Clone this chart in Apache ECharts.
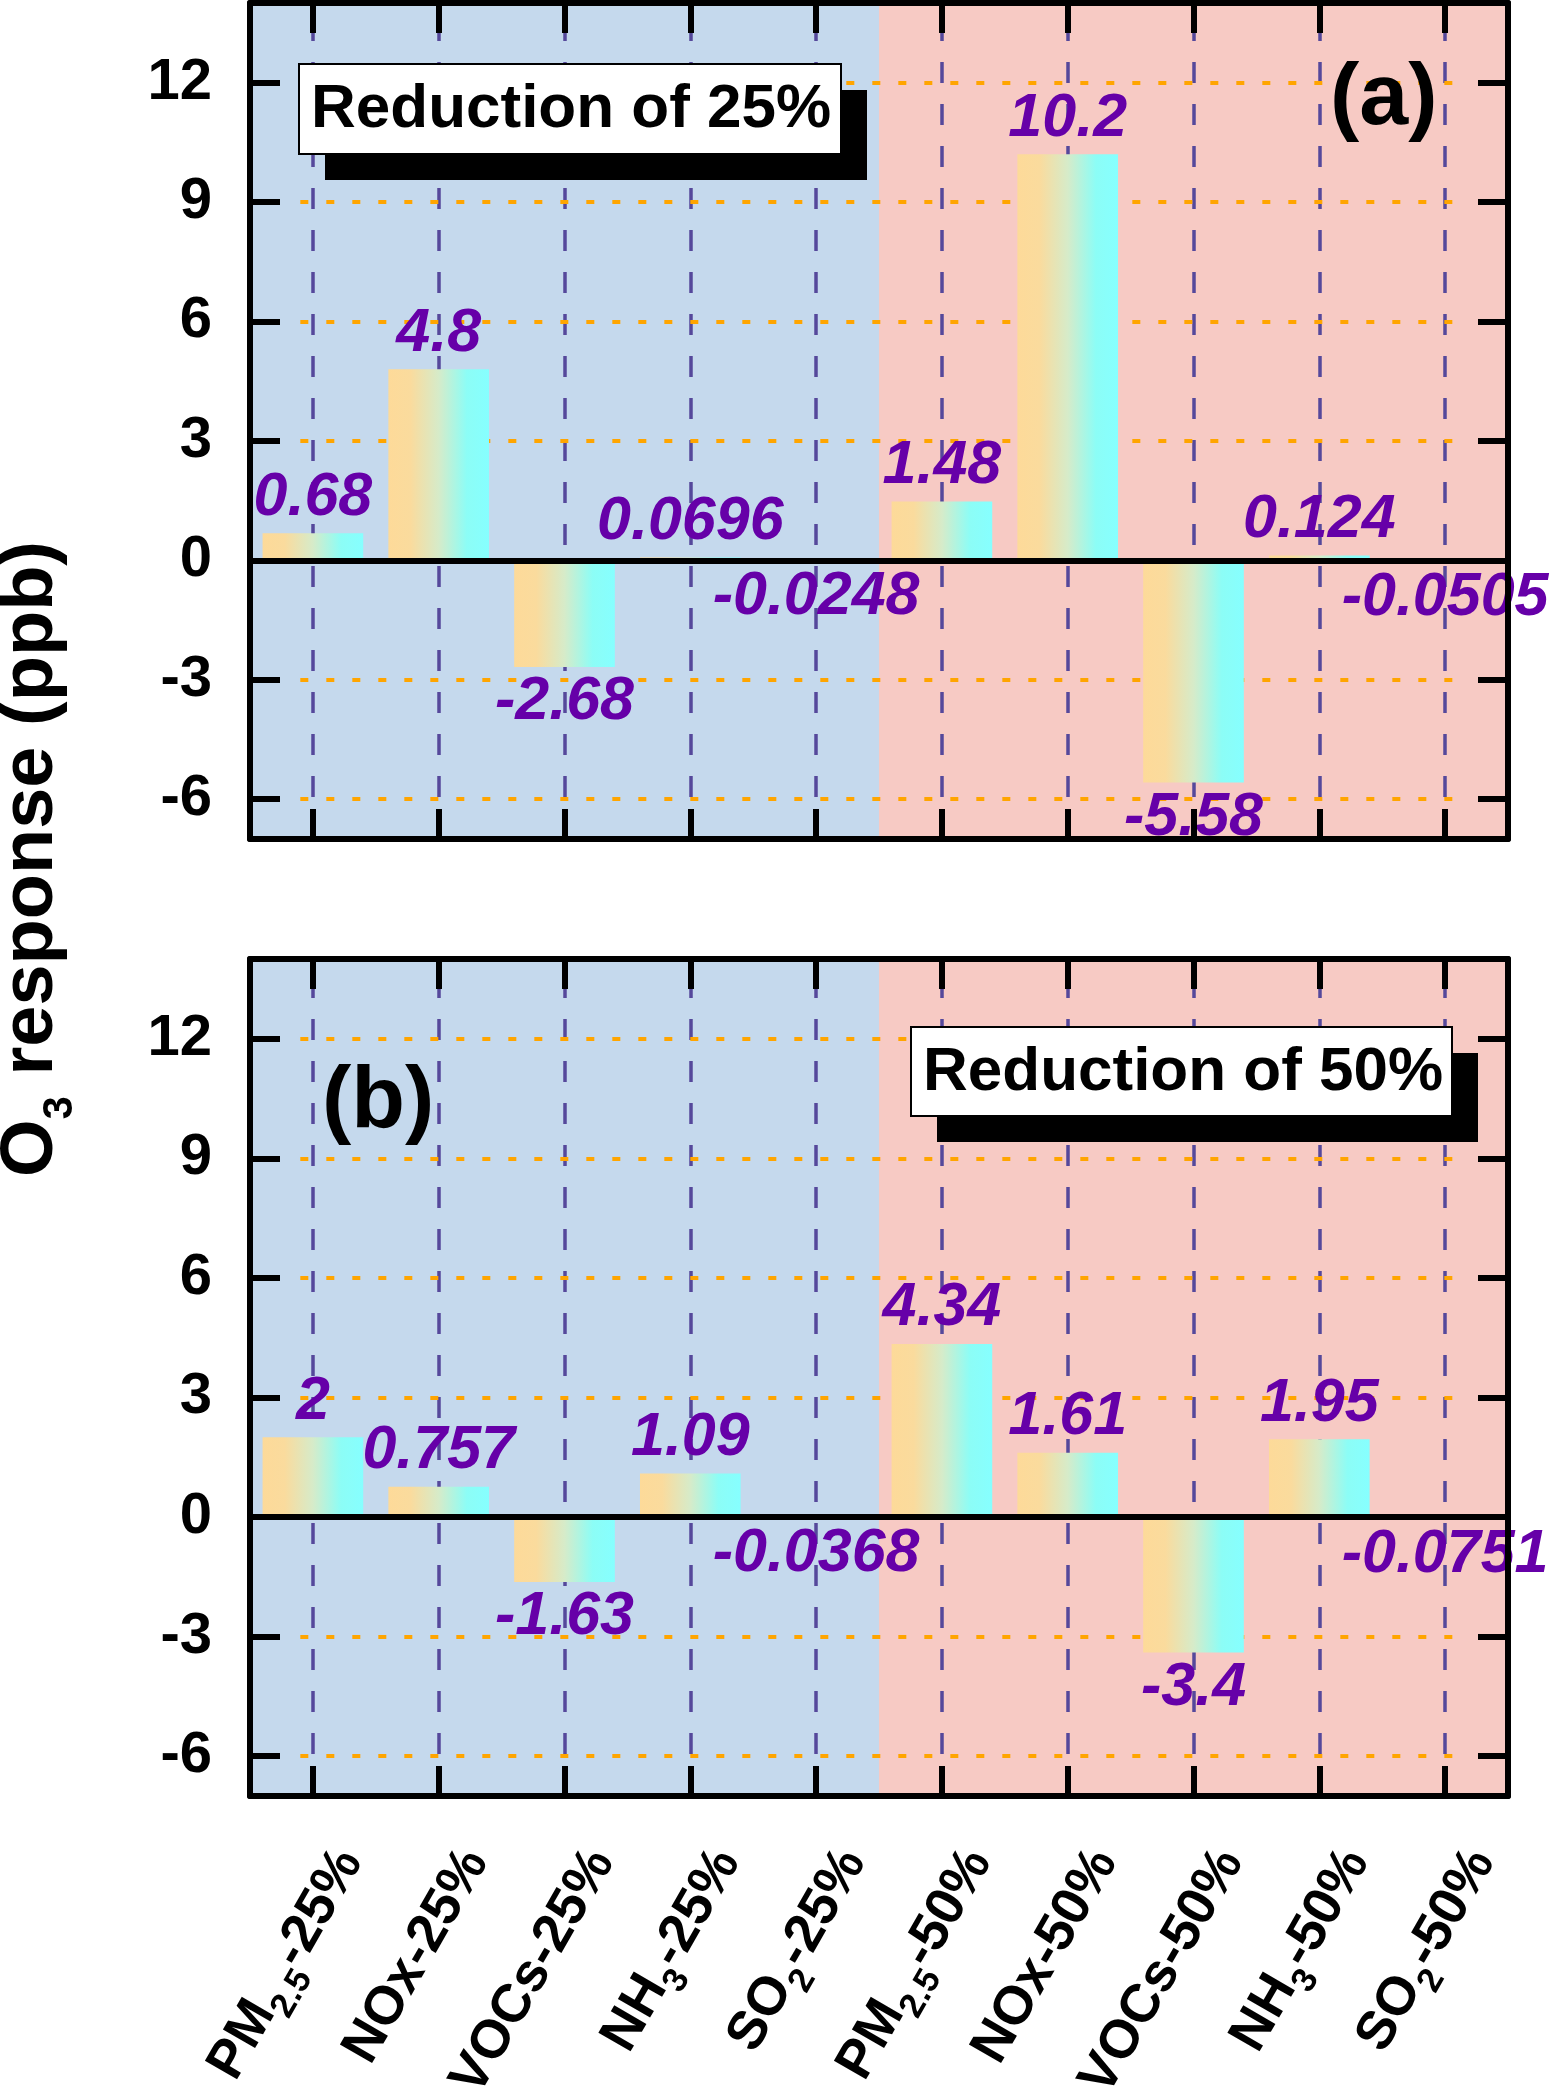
<!DOCTYPE html>
<html>
<head>
<meta charset="utf-8">
<script src="https://cdn.jsdelivr.net/npm/echarts@6/dist/echarts.min.js"></script>
<style>
html,body{margin:0;padding:0;background:#ffffff;}
#c{width:1554px;height:2087px;}
</style>
</head>
<body>
<div id="c"></div>
<script>
// ---------------- data ----------------
const categories = ['PM2.5-25%', 'NOx-25%', 'VOCs-25%', 'NH3-25%', 'SO2-25%',
                    'PM2.5-50%', 'NOx-50%', 'VOCs-50%', 'NH3-50%', 'SO2-50%'];
const values25 = [0.68, 4.8, -2.68, 0.0696, -0.0248, 1.48, 10.2, -5.58, 0.124, -0.0505];
const values50 = [2, 0.757, -1.63, 1.09, -0.0368, 4.34, 1.61, -3.4, 1.95, -0.0751];
const yTickValues = [-6, -3, 0, 3, 6, 9, 12];
const yGridValues = [-6, -3, 3, 6, 9, 12];
const yMin = -7;
const yMax = 14;
const regionBreak = 5;   // first 5 categories: 25% scenarios, last 5: 50% scenarios
const panelTitles = ['Reduction of 25%', 'Reduction of 50%'];
const panelTags = ['(a)', '(b)'];
const yAxisTitle = ['O', '3', ' response (ppb)'];

// ---------------- styles ----------------
const FONT = "'Liberation Sans', Arial, Helvetica, sans-serif";
const BLUE = '#C5D9ED';
const PINK = '#F7CAC4';
const PURPLE_DASH = '#55489B';
const ORANGE = '#FFA500';
const LABEL_COLOR = '#6600A8';

const barGradient = new echarts.graphic.LinearGradient(0, 0, 1, 0, [
  {offset: 0, color: '#FDDA99'},
  {offset: 0.22, color: '#FADB9D'},
  {offset: 0.5, color: '#D6EBC9'},
  {offset: 0.78, color: '#8CFDF6'},
  {offset: 1, color: '#86FFFF'}
]);

const grids = [
  {left: 250, width: 1258, top: 3, height: 836, containLabel: false, outerBoundsMode: 'none'},
  {left: 250, width: 1258, top: 959, height: 837, containLabel: false, outerBoundsMode: 'none'}
];

function richCategory(name) {
  return name.replace('PM2.5', 'PM{s|2.5}').replace('NH3', 'NH{s|3}').replace('SO2', 'SO{s|2}');
}

function catAxis(gi, pos, showLabel) {
  return {
    type: 'category', gridIndex: gi, position: pos, data: categories, boundaryGap: true, z: 10,
    axisLine: {show: true, onZero: false, lineStyle: {color: '#000', width: 6}},
    axisTick: {show: true, inside: true, length: 30, alignWithLabel: true, lineStyle: {color: '#000', width: 6}},
    splitLine: {show: false},
    axisLabel: showLabel ? {
      show: true, interval: 0, rotate: 60, margin: 36,
      verticalAlign: 'top', lineHeight: 86,
      fontSize: 54, fontWeight: 'bold', fontFamily: FONT, color: '#000',
      formatter: richCategory,
      rich: {
        s: {fontSize: 35, fontWeight: 'bold', fontFamily: FONT, color: '#000', lineHeight: 86, padding: [40, 0, 0, 0]}
      }
    } : {show: false}
  };
}

function helperXAxis(gi) {
  return {type: 'value', gridIndex: gi, min: 0, max: categories.length, show: false};
}

function valAxis(gi, pos, showLabel) {
  return {
    type: 'value', gridIndex: gi, position: pos, min: yMin, max: yMax, z: 10,
    axisLine: {show: true, onZero: false, lineStyle: {color: '#000', width: 6}},
    axisTick: {show: true, inside: true, length: 30, customValues: yTickValues, lineStyle: {color: '#000', width: 6}},
    splitLine: {show: false},
    axisLabel: showLabel ? {
      show: true, customValues: yTickValues, margin: 38,
      fontSize: 58, fontWeight: 'bold', fontFamily: FONT, color: '#000'
    } : {show: false}
  };
}

function barSeries(gi, values) {
  return {
    type: 'bar', xAxisIndex: gi * 2, yAxisIndex: gi * 2, barWidth: '80%', z: 3,
    data: values.map(v => ({value: v, label: {position: v < 0 ? 'bottom' : 'top'}})),
    itemStyle: {color: barGradient},
    label: {
      show: true, distance: 5, fontSize: 61, fontWeight: 'bold', fontStyle: 'italic',
      fontFamily: FONT, color: LABEL_COLOR, formatter: p => String(p.value)
    },
    markLine: {
      silent: true, symbol: 'none', z: 6, animation: false, label: {show: false},
      lineStyle: {color: '#000', width: 6, type: 'solid'},
      data: [{yAxis: 0}]
    },
    animation: false
  };
}

function helperSeries(gi) {
  const vLines = categories.map((c, i) => ({
    xAxis: i + 0.5,
    lineStyle: {color: PURPLE_DASH, width: 3.5, type: [21, 21]}
  }));
  const hLines = yGridValues.map(v => [
    {coord: [0.4, v], lineStyle: {color: ORANGE, width: 4, type: [8, 18]}},
    {coord: [categories.length - 0.4, v]}
  ]);
  return {
    type: 'line', xAxisIndex: 4 + gi, yAxisIndex: gi * 2, data: [], silent: true, z: 1,
    markArea: {
      silent: true, z: 0, animation: false,
      data: [
        [{xAxis: 0, itemStyle: {color: BLUE}}, {xAxis: regionBreak}],
        [{xAxis: regionBreak, itemStyle: {color: PINK}}, {xAxis: categories.length}]
      ]
    },
    markLine: {
      silent: true, symbol: 'none', z: 1, animation: false, label: {show: false},
      data: vLines.concat(hLines)
    },
    animation: false
  };
}

function legendBox(title, x, y, w, h) {
  return [
    {type: 'rect', z: 100, shape: {x: x + 26, y: y + 26, width: w, height: h}, style: {fill: '#000'}},
    {type: 'rect', z: 101, shape: {x: x, y: y, width: w, height: h}, style: {fill: '#fff', stroke: '#000', lineWidth: 2}},
    {type: 'text', z: 102, x: x + 12, y: y + h / 2 + 1,
      style: {text: title, fontSize: 62, fontWeight: 'bold', fontFamily: FONT, fill: '#000', align: 'left', verticalAlign: 'middle'}}
  ];
}

const chart = echarts.init(document.getElementById('c'), null, {renderer: 'canvas', width: 1554, height: 2087});

const option = {
  animation: false,
  backgroundColor: '#ffffff',
  grid: grids,
  xAxis: [
    catAxis(0, 'bottom', false), catAxis(0, 'top', false),
    catAxis(1, 'bottom', true), catAxis(1, 'top', false),
    helperXAxis(0), helperXAxis(1)
  ],
  yAxis: [
    valAxis(0, 'left', true), valAxis(0, 'right', false),
    valAxis(1, 'left', true), valAxis(1, 'right', false)
  ],
  series: [
    helperSeries(0), helperSeries(1),
    barSeries(0, values25), barSeries(1, values50)
  ],
  graphic: [].concat(
    legendBox(panelTitles[0], 299, 64, 542, 90),
    legendBox(panelTitles[1], 911, 1027, 541, 89),
    [
      {type: 'text', z: 102, x: 1330, y: 100,
        style: {text: panelTags[0], fontSize: 88, fontWeight: 'bold', fontFamily: FONT, fill: '#000', align: 'left', verticalAlign: 'middle'}},
      {type: 'text', z: 102, x: 322, y: 1103,
        style: {text: panelTags[1], fontSize: 88, fontWeight: 'bold', fontFamily: FONT, fill: '#000', align: 'left', verticalAlign: 'middle'}},
      {type: 'text', z: 102, x: 32, y: 859, rotation: Math.PI / 2,
        style: {
          text: '{a|' + yAxisTitle[0] + '}{b|' + yAxisTitle[1] + '}{a|' + yAxisTitle[2] + '}',
          align: 'center', verticalAlign: 'middle',
          rich: {
            a: {fontSize: 74, fontWeight: 'bold', fontFamily: FONT, fill: '#000', lineHeight: 90},
            b: {fontSize: 42, fontWeight: 'bold', fontFamily: FONT, fill: '#000', lineHeight: 90, padding: [56, 0, 0, 0]}
          }
        }}
    ]
  )
};

chart.setOption(option);
</script>
</body>
</html>
